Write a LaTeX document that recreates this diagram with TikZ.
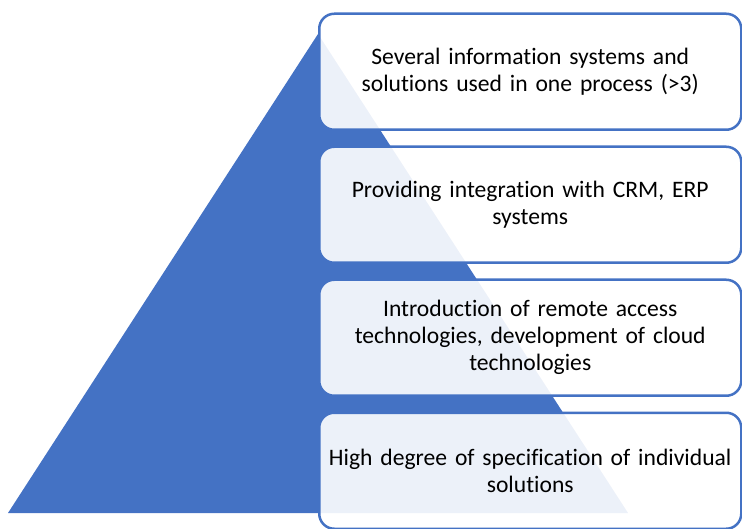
\documentclass[tikz,border=0pt]{standalone}
\usepackage{fontspec}
\setmainfont{Carlito}[RawFeature={-liga}]
\definecolor{accent}{HTML}{4472C4}
\begin{document}
\begin{tikzpicture}[x=1pt,y=-1pt,
  levelbox/.style={draw=accent, line width=2.5pt, rounded corners=15pt,
    fill=white, fill opacity=0.9, text opacity=1, minimum width=422pt,
    minimum height=116pt, anchor=north west, inner sep=0pt,
    align=center, text width=410pt,
    font=\fontsize{23.6pt}{27pt}\selectfont}]
  \useasboundingbox (0,0) rectangle (742,529);
  % pyramid behind the level boxes
  \fill[accent] (318,34) -- (628,513) -- (8,513) -- cycle;
  % level boxes, top to bottom
  \node[levelbox] (l1) at (318,12.5) {Several information systems and\\solutions used in one process (>3)};
  \node[levelbox] (l2) at (318,145.5) {Providing integration with CRM, ERP\\systems};
  \node[levelbox] (l3) at (318,278.5) {Introduction of remote access\\technologies, development of cloud\\technologies};
  \node[levelbox] (l4) at (318,411.5) {High degree of specification of individual\\solutions};
\end{tikzpicture}
\end{document}
